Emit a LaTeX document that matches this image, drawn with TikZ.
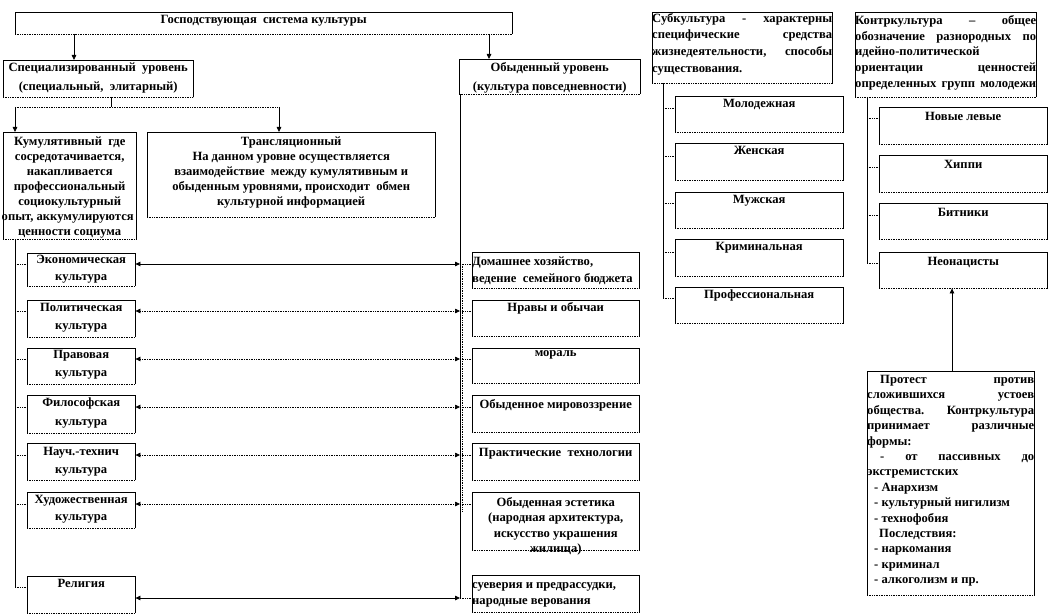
\documentclass[tikz,border=0pt]{standalone}
\usepackage{fontspec}
\setmainfont{Liberation Serif}
\usetikzlibrary{arrows.meta}
\newcommand\tb[5]{\parbox[c][#2pt][t]{#1pt}{\fontsize{12.6}{#4pt}\selectfont\vspace*{#3pt}#5}}
\newcommand\jl[1]{\makebox[\linewidth][s]{#1}}
\newcommand\jli[2]{\hspace*{#1pt}\makebox[\dimexpr\linewidth-#1pt\relax][s]{#2}}
\begin{document}
\begin{tikzpicture}[x=1pt,y=-1pt,
  every node/.style={font=\bfseries},
  bx/.style={inner sep=0pt, anchor=north west},
  border/.style={line width=0.7pt},
  sline/.style={line width=0.8pt},
  dline/.style={line width=0.7pt, densely dotted},
  tip/.style={-{Triangle[length=5pt,width=4.5pt]}},
  dtip/.style={{Triangle[length=5pt,width=4.5pt]}-{Triangle[length=5pt,width=4.5pt]}}]
\useasboundingbox (0,0) rectangle (1049,615);

% top levels
\node[bx] (gos) at (15,12) {\tb{497}{22}{3}{15}{\centering Господствующая\ \ система культуры}};
\node[bx] (spec) at (3,60) {\tb{190}{37}{3}{19}{\centering Специализированный\ \ уровень\\(специальный,\ \ элитарный)}};
\node[bx] (obyd) at (459,59) {\tb{181}{35}{3}{19}{\centering Обыденный уровень\\(культура повседневности)}};
\node[bx] (kum) at (3,132) {\tb{133}{107}{5}{15}{\centering Кумулятивный\ \ где\\сосредотачивается,\\накапливается\\профессиональный\\социокультурный\\\hspace*{-4pt}опыт, аккумулируются\hspace*{-4pt}\\ценности социума}};
\node[bx] (trans) at (147,132) {\tb{288}{85}{5}{15}{\centering Трансляционный\\На данном уровне осуществляется\\взаимодействие\ \ между кумулятивным и\\обыденным уровнями, происходит\ \ обмен\\культурной информацией}};

% left column
\node[bx] (l1) at (27,253) {\tb{108}{33}{2}{17}{\centering Экономическая\\культура}};
\node[bx] (l2) at (27,300) {\tb{108}{37}{3}{18}{\centering Политическая\\культура}};
\node[bx] (l3) at (27,348) {\tb{108}{36}{2}{18}{\centering Правовая\\культура}};
\node[bx] (l4) at (27,395) {\tb{108}{38}{3}{19}{\centering Философская\\культура}};
\node[bx] (l5) at (27,443) {\tb{108}{37}{4}{18}{\centering Науч.-технич\\культура}};
\node[bx] (l6) at (27,492) {\tb{108}{36}{3}{17}{\centering Художественная\\культура}};
\node[bx] (l7) at (27,576) {\tb{108}{37}{3}{17}{\centering Религия}};

% right column
\node[bx] (r1) at (472,252) {\tb{167}{36}{5}{17}{\raggedright Домашнее хозяйство,\\ведение\ \ семейного бюджета}};
\node[bx] (r2) at (472,300) {\tb{167}{36}{2}{17}{\centering Нравы и обычаи}};
\node[bx] (r3) at (472,348) {\tb{167}{35}{2}{17}{\centering мораль}};
\node[bx] (r4) at (472,395) {\tb{167}{37}{4}{17}{\centering Обыденное мировоззрение}};
\node[bx] (r5) at (472,443) {\tb{167}{37}{5}{17}{\centering Практические\ \ технологии}};
\node[bx] (r6) at (472,492) {\tb{167}{58}{5}{15.5}{\centering Обыденная эстетика\\(народная архитектура,\\искусство украшения\\жилища)}};
\node[bx] (r7) at (472,575) {\tb{167}{37}{7}{16}{\raggedright суеверия и предрассудки,\\народные верования}};

% subculture
\node[bx] (sub) at (652,12) {\tb{180}{71}{1}{16.7}{\jl{Субкультура - характерны}\\\jl{специфические средства}\\\jl{жизнедеятельности, способы}\\существования.}};
\node[bx] (s1) at (675,96) {\tb{168}{36}{3}{17}{\centering Молодежная}};
\node[bx] (s2) at (675,143) {\tb{168}{37}{3}{17}{\centering Женская}};
\node[bx] (s3) at (675,192) {\tb{168}{36}{3}{17}{\centering Мужская}};
\node[bx] (s4) at (675,239) {\tb{168}{37}{3}{17}{\centering Криминальная}};
\node[bx] (s5) at (675,287) {\tb{168}{36}{3}{17}{\centering Профессиональная}};

% counterculture
\node[bx] (con) at (855,12) {\tb{181}{85}{3}{15.8}{\jl{Контркультура\ \ –\ \ общее}\\\jl{обозначение разнородных по}\\идейно-политической\\\jl{ориентации ценностей}\\\jl{определенных групп молодежи}}};
\node[bx] (c1) at (879,107) {\tb{168}{37}{5}{17}{\centering Новые левые}};
\node[bx] (c2) at (879,155) {\tb{168}{37}{5}{17}{\centering Хиппи}};
\node[bx] (c3) at (879,203) {\tb{168}{36}{5}{17}{\centering Битники}};
\node[bx] (c4) at (879,252) {\tb{168}{36}{5}{17}{\centering Неонацисты}};
\node[bx] (pr) at (867,371) {\tb{167}{224}{4}{15.4}{\jli{13}{Протест против}\\\jl{сложившихся устоев}\\\jl{общества. Контркультура}\\\jl{принимает различные}\\формы:\\\jli{13}{- от пассивных до}\\экстремистских\\\hspace*{7pt}- Анархизм\\\hspace*{7pt}- культурный нигилизм\\\hspace*{7pt}- технофобия\\\hspace*{12pt}Последствия:\\\hspace*{7pt}- наркомания\\\hspace*{7pt}- криминал\\\hspace*{7pt}- алкоголизм и пр.}};

% box borders: solid top and sides, dotted bottom
\foreach \n in {gos,spec,obyd,kum,trans,l1,l2,l3,l4,l5,l6,l7,r1,r2,r3,r4,r5,r6,r7,sub,s1,s2,s3,s4,s5,con,c1,c2,c3,c4,pr}{
  \draw[border] (\n.south west) |- (\n.north east) -- (\n.south east);
  \draw[dline] (\n.south west) -- (\n.south east);
}

% junction coordinates
\coordinate (g1) at (74,34);
\coordinate (g2) at (489,34);
\coordinate (sp) at (111,97);
\coordinate (hl) at (15,107);
\coordinate (hr) at (279,107);
\coordinate (lvt) at (15,239);
\coordinate (lvb) at (15,587);
\coordinate (rvt) at (460,94);
\coordinate (rvb) at (460,598);
\coordinate (rdt) at (462,264);
\coordinate (rdb) at (462,512);
\coordinate (svt) at (663,83);
\coordinate (svb) at (663,298);
\coordinate (cvt) at (867,97);
\coordinate (cvb) at (867,263);

% connectors
\draw[sline,tip] (g1) -- (g1 |- spec.north);
\draw[sline,tip] (g2) -- (g2 |- obyd.north);
\draw[sline] (sp) -- (sp |- hl);
\draw[dline] (hl) -- (hr);
\draw[sline,tip] (hl) -- (hl |- kum.north);
\draw[sline,tip] (hr) -- (hr |- trans.north);

\draw[sline] (lvt) -- (lvb);
\draw[dline] (lvb) -- (l7.west |- lvb);
\draw[sline] (rvt) -- (rvb);
\draw[dline] (rdt) -- (rdb);
\foreach \i/\y in {1/264,2/311,3/359,4/407,5/455,6/504}{
  \draw[dline] (lvt |- 0,\y) -- (l\i.west |- 0,\y);
  \draw[dline] (rvt |- 0,\y) -- (r\i.west |- 0,\y);
}
\foreach \i/\y in {2/311,3/359,4/407,5/455,6/504}{
  \draw[dline,dtip] (l\i.east |- 0,\y) -- (rvt |- 0,\y);
}
\draw[sline,dtip] (l1.east |- 0,264) -- (rvt |- 0,264);
\draw[sline,dtip] (l7.east |- rvb) -- (rvb);
\draw[dline] (rvb) -- (r7.west |- rvb);

\draw[sline] (svt) -- (svb);
\foreach \i/\y in {1/108,2/156,3/203,4/252,5/298}{
  \draw[dline] (svt |- 0,\y) -- (s\i.west |- 0,\y);
}
\draw[sline] (cvt) -- (cvb);
\foreach \i/\y in {1/118,2/167,3/215,4/263}{
  \draw[dline] (cvt |- 0,\y) -- (c\i.west |- 0,\y);
}
\draw[sline,tip] (pr.north -| 952,0) -- (c4.south -| 952,0);
\end{tikzpicture}
\end{document}
